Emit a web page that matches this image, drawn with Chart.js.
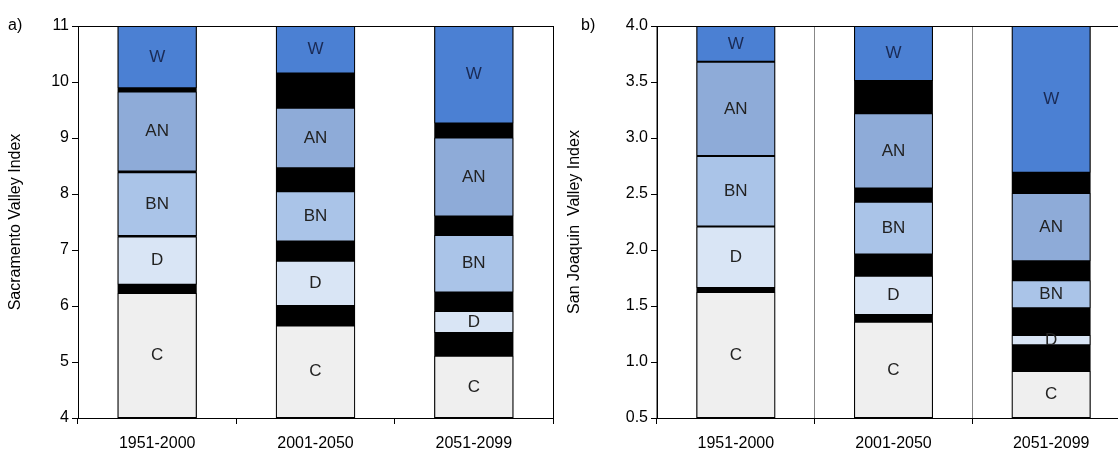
<!DOCTYPE html>
<html>
<head>
<meta charset="utf-8">
<script src="https://cdn.jsdelivr.net/npm/chart.js@4"></script>
<style>
  body { margin: 0; background: #fff; }
  #wrap { position: relative; width: 1118px; height: 462px; overflow: hidden; }
  .panel { position: absolute; top: 0; height: 462px; }
</style>
</head>
<body>
<div id="wrap">
  <div class="panel" style="left:0;width:560px"><canvas id="chartA"></canvas></div>
  <div class="panel" style="left:559px;width:590px"><canvas id="chartB"></canvas></div>
</div>
<script>
const periods = ['1951-2000', '2001-2050', '2051-2099'];
const classes = ['W', 'AN', 'BN', 'D', 'C'];
const classColors = ['#4b80d3', '#8eabd8', '#aac4e8', '#d9e5f5', '#efefef'];

// Sacramento Valley index: [low, high] of each year-type range
const sacW  = [[9.89, 11], [10.15, 11], [9.26, 11]];
const sacAN = [[8.40, 9.83], [8.46, 9.54], [7.60, 9.01]];
const sacBN = [[7.25, 8.39], [7.15, 8.05], [6.24, 7.27]];
const sacD  = [[6.38, 7.24], [6.00, 6.81], [5.52, 5.91]];
const sacC  = [[4, 6.23], [4, 5.65], [4, 5.11]];

// San Joaquin Valley index
const sjW  = [[3.68, 4.0], [3.51, 4.0], [2.69, 4.0]];
const sjAN = [[2.84, 3.68], [2.55, 3.22], [1.90, 2.51]];
const sjBN = [[2.21, 2.84], [1.96, 2.43], [1.48, 1.73]];
const sjD  = [[1.66, 2.21], [1.42, 1.77], [1.15, 1.24]];
const sjC  = [[0.5, 1.625], [0.5, 1.36], [0.5, 0.92]];

const font = { family: 'Liberation Sans, Arial, sans-serif', size: 16 };

function buildDatasets(series) {
  const sets = series.map((d, i) => ({
    label: classes[i], data: d, backgroundColor: classColors[i],
    borderColor: '#000', borderWidth: 1, borderSkipped: false, order: 1
  }));
  // black band behind: visible wherever year-type ranges do not touch
  const full = periods.map((p, j) => [series[4][j][0], series[0][j][1]]);
  sets.push({ label: 'gap', data: full, backgroundColor: '#000', borderWidth: 0, order: 2 });
  return sets;
}

const segmentLabels = {
  id: 'segmentLabels',
  afterDatasetsDraw(chart) {
    const ctx = chart.ctx;
    ctx.save();
    ctx.font = '17px ' + font.family;
    ctx.textAlign = 'center';
    ctx.textBaseline = 'middle';
    chart.data.datasets.forEach((ds, i) => {
      if (ds.label === 'gap') return;
      chart.getDatasetMeta(i).data.forEach(bar => {
        ctx.fillStyle = ds.label === 'W' ? '#1a2a55' : '#222';
        ctx.fillText(ds.label, bar.x, (bar.y + bar.base) / 2);
      });
    });
    ctx.restore();
  }
};

const frame = {
  id: 'frame',
  afterDraw(chart, args, opts) {
    const a = chart.chartArea, ctx = chart.ctx;
    ctx.save();
    ctx.strokeStyle = '#000';
    ctx.lineWidth = 1;
    ctx.strokeRect(a.left + 0.5, a.top + 0.5, a.right - a.left, a.bottom - a.top);
    ctx.fillStyle = '#000';
    ctx.font = '16px ' + font.family;
    ctx.textBaseline = 'middle';
    ctx.fillText(opts.tag, opts.tagX, a.top);
    ctx.restore();
  }
};

function makeChart(id, series, min, max, step, title, tag, tagX, yWidth, padRight, innerGrid) {
  new Chart(document.getElementById(id), {
    type: 'bar',
    data: { labels: periods, datasets: buildDatasets(series) },
    options: {
      responsive: true, maintainAspectRatio: false, animation: false,
      layout: { padding: { left: 6, right: padRight, top: 26, bottom: 0 } },
      plugins: { legend: { display: false }, tooltip: { enabled: false },
                 frame: { tag: tag, tagX: tagX } },
      datasets: { bar: { barPercentage: 0.5, categoryPercentage: 1, grouped: false } },
      scales: {
        x: {
          offset: true,
          grid: { offset: true, drawOnChartArea: innerGrid, color: innerGrid ? '#888' : '#000',
                  tickLength: 6, tickColor: '#000' },
          border: { color: '#000' },
          ticks: { font: font, color: '#000', padding: 10 },
          afterFit: s => { s.height = 44; }
        },
        y: {
          min: min, max: max,
          grid: { drawOnChartArea: false, tickLength: 6, tickColor: '#000' },
          border: { color: '#000' },
          ticks: { stepSize: step, font: font, color: '#000', padding: 3,
                   callback: v => step < 1 ? v.toFixed(1) : v },
          title: { display: true, text: title, font: font, color: '#000', padding: 0 },
          afterFit: s => { s.width = yWidth; }
        }
      }
    },
    plugins: [segmentLabels, frame]
  });
}

makeChart('chartA', [sacW, sacAN, sacBN, sacD, sacC], 4, 11, 1,
  'Sacramento Valley Index', 'a)', 8, 72, 7, false);
makeChart('chartB', [sjW, sjAN, sjBN, sjD, sjC], 0.5, 4.0, 0.5,
  'San Joaquin  Valley Index', 'b)', 22, 92, 19, true);
</script>
</body>
</html>
